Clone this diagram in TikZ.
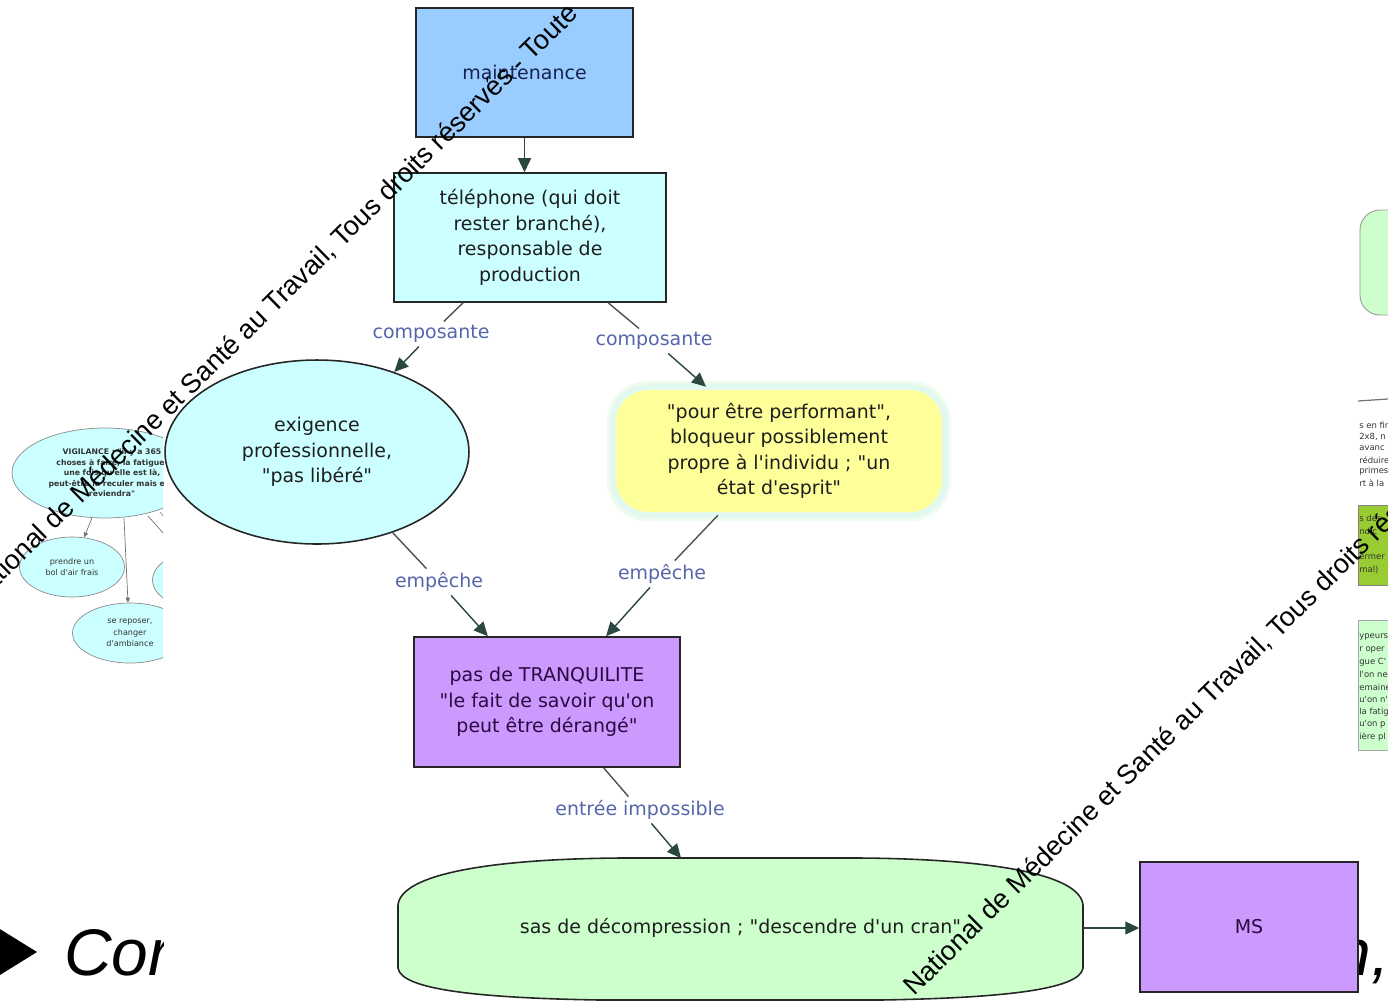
\documentclass[tikz,border=0pt]{standalone}
\usepackage{fontspec}
\setmainfont{DejaVu Sans}[Ligatures=TeXOff]
\newfontfamily\arialf{Liberation Sans}[Ligatures=TeXOff]
\usetikzlibrary{arrows.meta,shapes.geometric,calc}
\definecolor{cmaint}{HTML}{99CCFF}
\definecolor{ccyan}{HTML}{CCFFFF}
\definecolor{cyel}{HTML}{FFFF99}
\definecolor{cglow}{HTML}{E0F8EE}
\definecolor{cglowb}{HTML}{EEFBEF}
\definecolor{cviol}{HTML}{CC99FF}
\definecolor{cgreen}{HTML}{CCFFCC}
\definecolor{colive}{HTML}{99CC33}
\definecolor{clabel}{HTML}{5566AA}
\definecolor{carrow}{HTML}{2B4742}
\definecolor{cline}{HTML}{505050}
\definecolor{ctext}{HTML}{1E1E1E}
\definecolor{cnavy}{HTML}{1A2250}
\definecolor{cpurp}{HTML}{2A0A40}
\begin{document}
\begin{tikzpicture}[x=0.02cm,y=-0.02cm,
  mainfont/.style={font=\fontsize{10.8}{14.5}\selectfont},
  rectbox/.style={draw=black!85, line width=0.9pt, mainfont, align=center, text=ctext, inner sep=0pt},
  ellbox/.style={ellipse, draw=black!85, line width=0.9pt, mainfont, align=center, text=ctext, inner sep=0pt},
  lab/.style={mainfont, text=clabel, inner sep=2pt},
  plain/.style={draw=cline, line width=0.8pt},
  arr/.style={draw=carrow, line width=0.8pt, -{Triangle[length=0.28cm,width=0.26cm]}},
  wm/.style={font=\arialf\fontsize{15.4}{18}\selectfont, text=black, inner sep=0pt, rotate=44.5, anchor=base west},
  small/.style={font=\fontsize{4.6}{6.6}\selectfont, align=center, inner sep=0pt, text=black!80},
  sarr/.style={draw=black!55, line width=0.4pt, -{Triangle[length=0.1cm,width=0.09cm]}}
]
\useasboundingbox (0,0) rectangle (1388,1002);
\fill[white] (0,0) rectangle (1388,1002);

% ---------- left fragment (clipped) ----------
\begin{scope}
\clip (0,415) rectangle (163,700);
\node[ellipse, draw=black!45, fill=ccyan, minimum width=3.72cm, minimum height=1.8cm, inner sep=0pt] (vig) at (105,473) {};
\node[small, font=\bfseries\fontsize{4.4}{6}\selectfont] (vigt) at (112,473) {VIGILANCE : "il y a 365\\choses à faire, la fatigue,\\une fois qu'elle est là,\\peut-être la reculer mais elle\\reviendra"};
\node[ellipse, draw=black!45, fill=ccyan, minimum width=2.1cm, minimum height=1.2cm, inner sep=0pt, small] (frais) at (72,567) {prendre un\\bol d'air frais};
\node[ellipse, draw=black!45, fill=ccyan, minimum width=2.3cm, minimum height=1.2cm, inner sep=0pt, small] (repos) at (130,633) {se reposer,\\changer\\d'ambiance};
\node[ellipse, draw=black!45, fill=ccyan, minimum width=2.1cm, minimum height=1.2cm, inner sep=0pt] (autre) at (205,580) {};
\draw[sarr] (92,518) -- (frais);
\draw[sarr] (124,518) -- (repos.north -| 128,0);
\draw[sarr] (148,516) -- (autre);
\draw[draw=black!45, line width=0.4pt] (160,512) -- (175,530);
\end{scope}

% ---------- right fragment (clipped) ----------
\begin{scope}
\clip (1358,190) rectangle (1388,760);
\draw[draw=black!40, fill=cgreen, rounded corners=0.4cm, line width=0.5pt] (1360,210) rectangle (1470,315);
\draw[draw=black!55, line width=0.7pt] (1358,401) -- (1388,399);
\foreach \t [count=\i] in {s en fin,{2x8, n},avanc,réduire,primes,rt à la}
  \node[small, anchor=west, font=\fontsize{4.8}{6}\selectfont] at (1359,414+11.5*\i) {\t};
\draw[draw=black!50, fill=colive, line width=0.5pt] (1358,505) rectangle (1470,585);
\foreach \t [count=\i] in {s des,ndic,,ermer,mal)}
  \node[small, anchor=west, font=\fontsize{4.8}{6}\selectfont] at (1359,505+13*\i) {\t};
\draw[draw=black!35, fill=cgreen, line width=0.5pt] (1358,620) rectangle (1470,750);
\foreach \t [count=\i] in {ypeurs,r oper,gue C',l'on ned,emaine,u'on n',la fatig,u'on p,ière pl}
  \node[small, anchor=west, font=\fontsize{4.8}{6}\selectfont] at (1359,625+12.4*\i) {\t};
\end{scope}

% ---------- bottom slide text ----------
\fill[black] (-5,926) -- (37,952) -- (-5,978) -- cycle;
\begin{scope}
\clip (0,880) rectangle (163,1002);
\node[font=\arialf\itshape\fontsize{37.5}{40}\selectfont, anchor=base west, inner sep=0pt] (cor) at (64,975) {Cor};
\end{scope}
\begin{scope}
\clip (1358,880) rectangle (1388,1002);
\node[font=\arialf\itshape\fontsize{37.5}{40}\selectfont, anchor=base west, inner sep=0pt] (nend) at (1334,975) {n,};
\end{scope}

% ---------- main diagram ----------
\node[rectbox, fill=cmaint, minimum width=4.34cm, minimum height=2.58cm, text=cnavy] (maint) at (524.5,72.5) {maintenance};
\node[rectbox, fill=ccyan, minimum width=5.44cm, minimum height=2.58cm] (tel) at (530,237.5) {téléphone (qui doit\\rester branché),\\responsable de\\production};
\node[ellbox, fill=ccyan, minimum width=6.08cm, minimum height=3.68cm] (exig) at (317,452) {exigence\\professionnelle,\\"pas libéré"};
\draw[draw=cglowb, line width=7pt, rounded corners=0.7cm] (613,387) rectangle (945,515);
\draw[draw=cglow, line width=3pt, rounded corners=0.7cm] (613,387) rectangle (945,515);
\fill[cyel, rounded corners=0.65cm] (616,390) rectangle (942,512);
\node[mainfont, align=center, text=ctext, minimum width=6.64cm, minimum height=2.56cm, inner sep=0pt] (yel) at (779,451) {"pour être performant",\\bloqueur possiblement\\propre à l'individu ; "un\\état d'esprit"};
\node[rectbox, fill=cviol, minimum width=5.32cm, minimum height=2.6cm, text=cpurp] (tranq) at (547,702) {pas de TRANQUILITE\\"le fait de savoir qu'on\\peut être dérangé"};
\draw[draw=black!85, line width=0.9pt, fill=cgreen]
  (398,968) -- (398,905) .. controls (401,874) and (490,859) .. (620,858)
  -- (860,858) .. controls (991,859) and (1080,874) .. (1083,905)
  -- (1083,968) .. controls (1080,990) and (1000,998) .. (880,1000)
  -- (600,1000) .. controls (481,998) and (401,990) .. (398,968) -- cycle;
\node[mainfont, text=ctext, minimum width=13.7cm, minimum height=2.78cm, inner sep=0pt] (sas) at (740.5,928) {sas de décompression ; "descendre d'un cran"};
\node[rectbox, fill=cviol, minimum width=4.36cm, minimum height=2.6cm, text=cpurp] (ms) at (1249,927) {MS};

% labels
\node[lab] (l1) at (431,334) {composante};
\node[lab] (l2) at (654,341) {composante};
\node[lab] (l3) at (439,582) {empêche};
\node[lab] (l4) at (662,574) {empêche};
\node[lab] (l5) at (640,810) {entrée impossible};

% connectors
\draw[arr] (maint.south) -- (maint.south |- tel.north);
\draw[plain] (tel) -- (l1);
\draw[arr] (l1) -- (exig);
\draw[plain] (tel) -- (l2);
\draw[arr] (l2) -- (yel);
\draw[plain] (exig) -- (l3);
\draw[arr] (l3) -- (tranq);
\draw[plain] (yel) -- (l4);
\draw[arr] (l4) -- (tranq);
\draw[plain] (tranq) -- (l5);
\draw[arr] (l5) -- (sas);
\draw[arr] (sas.east) -- (ms.west |- sas.east);

% ---------- watermark lines ----------
\node[wm] (wm1) at (-22,606) {National de Médecine et Santé au Travail, Tous droits réservés - Toute};
\node[wm] (wm2) at (914,997) {National de Médecine et Santé au Travail, Tous droits réservés};
\end{tikzpicture}
\end{document}
